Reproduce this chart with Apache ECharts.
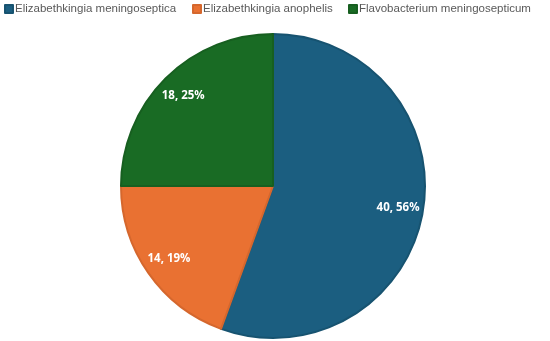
<!DOCTYPE html>
<html><head><meta charset="utf-8">
<script src="https://cdn.jsdelivr.net/npm/echarts@6/dist/echarts.min.js"></script>
<style>html,body{margin:0;padding:0;background:#fff}#c{width:550px;height:341px}</style>
</head><body><div id="c"></div>
<script>
const categories = ["Elizabethkingia meningoseptica", "Elizabethkingia anophelis", "Flavobacterium meningosepticum"];
const values = [40, 14, 18];
const colors = ["#1B5E80", "#E97132", "#196B24"];
const borders = ["#175370", "#D5672D", "#175F20"];
const legendLeft = [4, 192, 348];
const total = values.reduce((a, b) => a + b, 0);
const data = categories.map((n, i) => ({ name: n, value: values[i], itemStyle: { color: colors[i], borderColor: borders[i] } }));
const labelData = categories.map((n, i) => ({ name: n, value: values[i] }));
const chart = echarts.init(document.getElementById('c'));
chart.setOption({
  animation: false,
  legend: categories.map((n, i) => ({
    top: -2, left: legendLeft[i], itemWidth: 8, itemHeight: 8, icon: 'rect', padding: [5, 0, 5, 0],
    textStyle: { color: '#595959', fontSize: 11.5, fontFamily: 'Liberation Sans', padding: [0, 0, 0, -3] },
    data: [n]
  })),
  series: [
    {
      type: 'pie', center: [273, 186], radius: [0, 152], startAngle: 90, clockwise: true,
      data: data, label: { show: false }, labelLine: { show: false },
      itemStyle: { borderWidth: 2 }, emphasis: { disabled: true }
    },
    {
      type: 'pie', center: [273, 186], radius: [96, 152], startAngle: 90, clockwise: true, silent: true,
      data: labelData, itemStyle: { color: 'rgba(0,0,0,0)' }, labelLine: { show: false },
      label: {
        show: true, position: 'inside', color: '#fff', fontWeight: 'bold', fontSize: 11.5, fontFamily: 'Open Sans',
        formatter: p => p.value + ', ' + Math.round(p.value / total * 100) + '%'
      },
      emphasis: { disabled: true }, legendHoverLink: false
    }
  ]
});
</script></body></html>
